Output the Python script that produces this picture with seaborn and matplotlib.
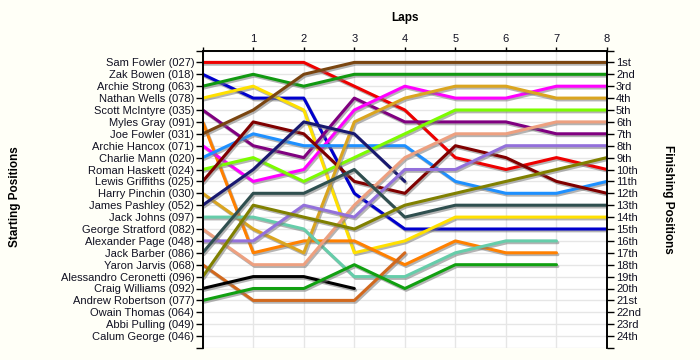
import numpy as np
import pandas as pd
import matplotlib
matplotlib.use('Agg')
import matplotlib.pyplot as plt
import matplotlib.patheffects as pe
import seaborn as sns

# --- data: race position after each lap (lap 0 = grid) ---
laps = [0, 1, 2, 3, 4, 5, 6, 7, 8]
nan = np.nan

drivers = ['Sam Fowler (027)', 'Zak Bowen (018)', 'Archie Strong (063)', 'Nathan Wells (078)',
           'Scott McIntyre (035)', 'Myles Gray (091)', 'Joe Fowler (031)', 'Archie Hancox (071)',
           'Charlie Mann (020)', 'Roman Haskett (024)', 'Lewis Griffiths (025)', 'Harry Pinchin (030)',
           'James Pashley (052)', 'Jack Johns (097)', 'George Stratford (082)', 'Alexander Page (048)',
           'Jack Barber (086)', 'Yaron Jarvis (068)', 'Alessandro Ceronetti (096)', 'Craig Williams (092)',
           'Andrew Robertson (077)', 'Owain Thomas (064)', 'Abbi Pulling (049)', 'Calum George (046)']

finish_labels = ['1st', '2nd', '3rd', '4th', '5th', '6th', '7th', '8th', '9th', '10th', '11th', '12th',
                 '13th', '14th', '15th', '16th', '17th', '18th', '19th', '20th', '21st', '22nd', '23rd', '24th']

sam_fowler = [1, 1, 1, 3, 5, 9, 10, 9, 10]
zak_bowen = [2, 4, 4, 12, 15, 15, 15, 15, 15]
archie_strong = [3, 2, 3, 2, 2, 2, 2, 2, 2]
nathan_wells = [4, 3, 5, 17, 16, 14, 14, 14, 14]
scott_mcintyre = [5, 8, 9, 4, 6, 6, 6, 7, 7]
myles_gray = [6, 17, 16, 16, 18, 16, 17, 17, nan]
joe_fowler = [7, 5, 2, 1, 1, 1, 1, 1, 1]
archie_hancox = [8, 11, 10, 5, 3, 4, 4, 3, 3]
charlie_mann = [9, 7, 8, 8, 8, 11, 12, 12, 11]
roman_haskett = [10, 9, 11, 9, 7, 5, 5, 5, 5]
lewis_griffiths = [11, 6, 7, 11, 12, 8, 9, 11, 12]
harry_pinchin = [12, 15, 17, 6, 4, 3, 3, 4, 4]
james_pashley = [13, 10, 6, 7, 11, nan, nan, nan, nan]
jack_johns = [14, 14, 15, 19, 19, 17, 16, 16, nan]
george_stratford = [15, 18, 18, 13, 9, 7, 7, 6, 6]
alexander_page = [16, 16, 13, 14, 10, 10, 8, 8, 8]
jack_barber = [17, 12, 12, 10, 14, 13, 13, 13, 13]
yaron_jarvis = [18, 21, 21, 21, 17, nan, nan, nan, nan]
alessandro_ceronetti = [19, 13, 14, 15, 13, 12, 11, 10, 9]
craig_williams = [20, 19, 19, 20, nan, nan, nan, nan, nan]
andrew_robertson = [21, 20, 20, 18, 20, 18, 18, 18, nan]

series = [sam_fowler, zak_bowen, archie_strong, nathan_wells, scott_mcintyre, myles_gray,
          joe_fowler, archie_hancox, charlie_mann, roman_haskett, lewis_griffiths, harry_pinchin,
          james_pashley, jack_johns, george_stratford, alexander_page, jack_barber, yaron_jarvis,
          alessandro_ceronetti, craig_williams, andrew_robertson]

colors = ['#ee0000', '#0000cc', '#119911', '#ffe000', '#800080', '#ff8000', '#7a4510',
          '#ff00ff', '#1e90ff', '#7cfc00', '#800000', '#daa520', '#191970', '#66cdaa',
          '#eda080', '#9370db', '#2f4f4f', '#d2691e', '#808000', '#000000', '#11a011']

# --- long table for seaborn ---
rows = []
for name, pos in zip(drivers, series):
    for lap, p in zip(laps, pos):
        if not np.isnan(p):
            rows.append({'driver': name, 'lap': lap, 'pos': p})
df = pd.DataFrame(rows)
palette = dict(zip(drivers, colors))
racers = drivers[:len(series)]

sns.set_style('white')
plt.rcParams['font.family'] = ['Liberation Sans', 'DejaVu Sans']
text_col = '#111122'

fig = plt.figure(figsize=(7, 3.6), dpi=100, facecolor='#fffff7')
ax = fig.add_axes([202.7 / 700, 1 - 348 / 360, (607 - 202.7) / 700, (348 - 50.5) / 360])
ax.set_facecolor('white')

sns.lineplot(data=df, x='lap', y='pos', hue='driver', hue_order=racers, palette=palette,
             estimator=None, sort=False, legend=False, linewidth=2.2, ax=ax)
for line in ax.lines:
    line.set_path_effects([pe.SimpleLineShadow(offset=(1, -1.3), shadow_color='#777777', alpha=0.55),
                           pe.Normal()])

ax.set_xlim(0, 8)
ax.set_ylim(25, 0)
ax.set_xticks(laps)
ax.set_xticklabels([''] + [str(l) for l in laps[1:]])
ax.xaxis.tick_top()
ax.set_yticks(range(0, 26))
ax.set_yticklabels([''] + drivers + [''])
ax.set_xlabel('')
ax.set_ylabel('')
ax.grid(True, color='#e6e6e6', linewidth=1)
ax.set_axisbelow(True)

ax.tick_params(axis='y', direction='out', length=5, width=1, pad=1, labelsize=8, colors='black',
               labelcolor=text_col, left=True)
ax.tick_params(axis='x', direction='out', length=3, width=1, pad=1.5, labelsize=8, colors='black',
               labelcolor=text_col, top=True, bottom=False)

ax2 = ax.twinx()
ax2.set_ylim(25, 0)
ax2.set_yticks(range(0, 26))
ax2.set_yticklabels([''] + finish_labels + [''])
ax2.tick_params(axis='y', direction='out', length=5, width=1, pad=1.5, labelsize=8,
                colors='black', labelcolor=text_col, right=True)
ax2.grid(False)

for a in (ax, ax2):
    for side in ['left', 'right', 'top']:
        a.spines[side].set_visible(True)
        a.spines[side].set_color('black')
        a.spines[side].set_linewidth(1.2)
    a.spines['bottom'].set_visible(False)

fig.text(405 / 700, 1 - 18.5 / 360, 'Laps', ha='center', va='center', fontsize=8.5,
         fontweight='bold', color='black')
fig.text(15 / 700, 1 - 197 / 360, 'Starting Positions', rotation=90, ha='center', va='center',
         fontsize=8.5, fontweight='bold', color='black')
fig.text(668 / 700, 1 - 199 / 360, 'Finishing Positions', rotation=270, ha='center', va='center',
         fontsize=8.5, fontweight='bold', color='black')

fig.savefig('out.png', dpi=100, facecolor=fig.get_facecolor())
